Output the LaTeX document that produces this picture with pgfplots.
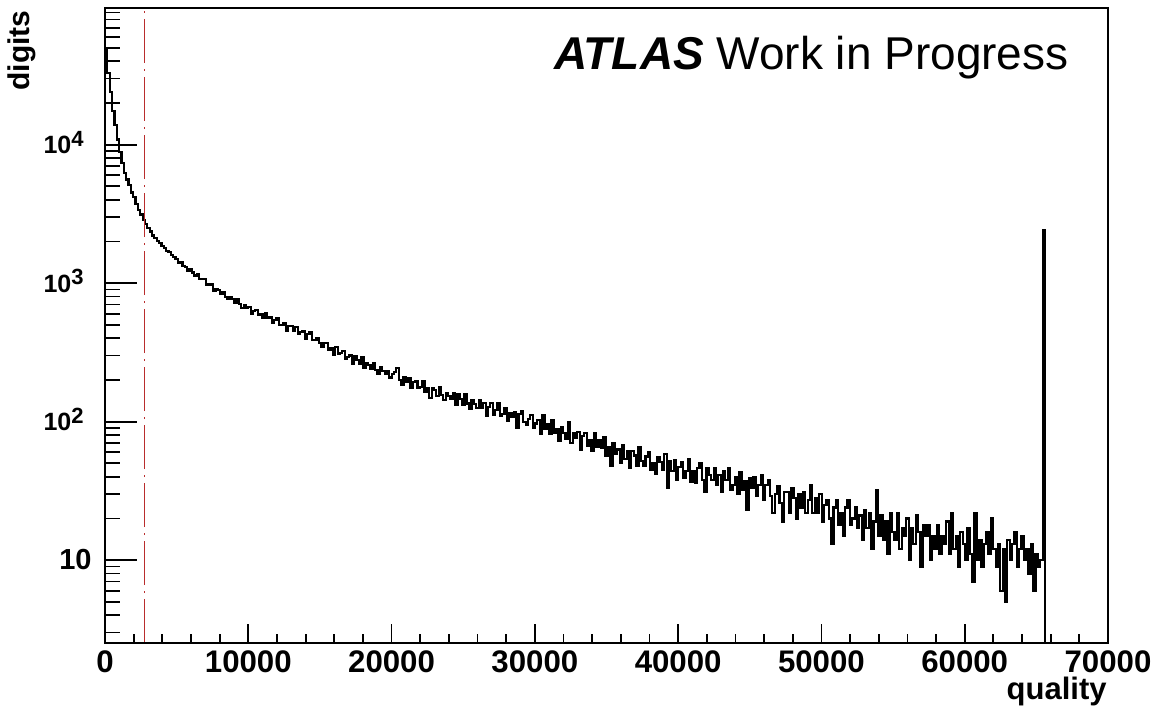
\documentclass[border=0pt]{standalone}
\usepackage{fontspec}
\setmainfont{Liberation Sans}
\usepackage{pgfplots}
\pgfplotsset{compat=1.18}
\usepackage{pgfplotstable}

\pgfplotstableread{
x y
0 0.01
0 50000
164 33000
328 24000
492 17500
656 13900
820 10900
984 8800
1148 7350
1312 6250
1476 5600
1640 5080
1804 4520
1968 4170
2132 3720
2296 3360
2460 3130
2624 2860
2788 2690
2952 2490
3116 2360
3280 2210
3444 2130
3608 2010
3772 1950
3936 1850
4100 1800
4264 1710
4428 1670
4592 1590
4756 1550
4920 1488
5084 1393
5248 1425
5412 1332
5576 1310
5740 1222
5904 1255
6068 1194
6232 1136
6396 1168
6560 1067
6724 1074
6888 1074
7052 973
7216 978
7380 980
7544 880
7708 910
7872 898
8036 842
8200 865
8364 798
8528 764
8692 795
8856 767
9020 722
9184 771
9348 708
9512 663
9676 695
9840 659
10004 676
10168 604
10332 630
10496 639
10660 586
10824 601
10988 558
11152 606
11316 558
11480 565
11644 518
11808 539
11972 555
12136 498
12300 501
12464 514
12628 453
12792 488
12956 493
13120 454
13284 481
13448 428
13612 441
13776 447
13940 397
14104 427
14268 445
14432 390
14596 389
14760 403
14924 371
15088 346
15252 370
15416 372
15580 332
15744 342
15908 304
16072 346
16236 309
16400 315
16564 324
16728 286
16892 292
17056 300
17220 261
17384 295
17548 277
17712 263
17876 294
18040 246
18204 264
18368 257
18532 241
18696 265
18860 237
19024 222
19188 246
19352 233
19516 220
19680 231
19844 208
20008 221
20172 229
20336 243
20500 201
20664 185
20828 210
20992 195
21156 206
21320 175
21484 193
21648 197
21812 176
21976 179
22140 196
22304 163
22468 174
22632 148
22796 175
22960 170
23124 154
23288 177
23452 156
23616 143
23780 162
23944 154
24108 145
24272 162
24436 131
24600 157
24764 146
24928 133
25092 159
25256 135
25420 123
25584 142
25748 134
25912 125
26076 144
26240 125
26404 136
26568 110
26732 128
26896 137
27060 112
27224 122
27388 136
27552 110
27716 114
27880 126
28044 102
28208 116
28372 108
28536 118
28700 90
28864 113
29028 119
29192 99
29356 94
29520 105
29684 112
29848 90
30012 97
30176 103
30340 81
30504 111
30668 89
30832 96
30996 81
31160 103
31324 83
31488 89
31652 73
31816 92
31980 83
32144 75
32308 99
32472 70
32636 83
32800 76
32964 84
33128 63
33292 79
33456 83
33620 67
33784 73
33948 61
34112 83
34276 66
34440 73
34604 65
34768 77
34932 57
35096 66
35260 48
35424 70
35588 58
35752 63
35916 50
36080 68
36244 54
36408 61
36572 46
36736 61
36900 57
37064 48
37228 65
37392 52
37556 48
37720 56
37884 60
38048 45
38212 50
38376 42
38540 55
38704 51
38868 45
39032 58
39196 33
39360 52
39524 44
39688 53
39852 38
40016 47
40180 51
40344 39
40508 44
40672 54
40836 37
41000 44
41164 36
41328 46
41492 50
41656 38
41820 31
41984 46
42148 41
42312 38
42476 46
42640 35
42804 41
42968 31
43132 44
43296 38
43460 46
43624 32
43788 35
43952 40
44116 30
44280 43
44444 32
44608 37
44772 23
44936 39
45100 33
45264 40
45428 29
45592 35
45756 41
45920 27
46084 35
46248 38
46412 29
46576 22
46740 30
46904 34
47068 26
47232 19
47396 31
47560 31
47724 22
47888 33
48052 28
48216 20
48380 30
48544 24
48708 31
48872 22
49036 27
49200 35
49364 22
49528 28
49692 22
49856 30
50020 19
50184 25
50348 27
50512 20
50676 13
50840 24
51004 27
51168 18
51332 22
51496 15
51660 24
51824 27
51988 18
52152 20
52316 24
52480 17
52644 21
52808 14
52972 23
53136 17
53300 22
53464 12
53628 19
53792 32
53956 15
54120 21
54284 14
54448 19
54612 11
54776 22
54940 16
55104 14
55268 22
55432 12
55596 17
55760 15
55924 20
56088 10
56252 17
56416 13
56580 21
56744 16
56908 9
57072 18
57236 15
57400 18
57564 10
57728 15
57892 12
58056 18
58220 11
58384 15
58548 13
58712 19
58876 11
59040 22
59204 12
59368 15
59532 9
59696 16
59860 13
60024 10
60188 17
60352 11
60516 7
60680 22
60844 10
61008 14
61172 9
61336 13
61500 16
61664 11
61828 20
61992 12
62156 9
62320 13
62484 6
62648 12
62812 5
62976 14
63140 10
63304 13
63468 16
63632 9
63796 12
63960 15
64124 10
64288 12
64452 8
64616 13
64780 6
64944 11
65108 9
65272 10
65436 2400
65600 0.01
}\histdata

\newcommand{\pw}[1]{{\fontsize{12.5}{15}\selectfont 10\raisebox{3.6pt}{\fontsize{11}{13}\selectfont #1}}\kern4pt}

\begin{document}
\begin{tikzpicture}[x=1pt,y=1pt]
\useasboundingbox (0,0) rectangle (577,354);
\begin{axis}[
  at={(52.5pt,32.5pt)}, anchor=south west,
  scale only axis, width=501.5pt, height=317.5pt,
  xmin=0, xmax=70000, ymode=log, ymin=2.52, ymax=97000,
  axis line style={line width=1pt},
  tick align=inside, tick pos=left,
  xtick={0,10000,20000,30000,40000,50000,60000,70000},
  xticklabels={0,10000,20000,30000,40000,50000,60000,70000},
  minor x tick num=4,
  ytick=\empty,
  major tick length=9.5pt, minor tick length=4.5pt,
  every tick/.style={line width=0.9pt, black},
  /pgf/number format/assume math mode=true,
  xticklabel style={font=\fontsize{15.6}{18}\selectfont\bfseries, inner sep=0pt, anchor=north, yshift=-3.5pt},
  scaled x ticks=false,
]
\addplot[const plot mark left, no marks, line width=1.1pt, black] table[x=x,y=y]{\histdata};
\addplot[no marks, color={rgb,255:red,185;green,45;blue,45}, line width=0.6pt, dash pattern=on 22pt off 3pt on 1pt off 3pt] coordinates {(2730,2.52) (2730,97000)};
\end{axis}
\begin{axis}[
  at={(52.5pt,32.5pt)}, anchor=south west,
  scale only axis, width=501.5pt, height=317.5pt,
  xmin=0, xmax=70000, ymode=log, ymin=2.52, ymax=97000,
  axis line style={line width=1pt},
  tick align=inside, tick pos=left,
  xtick=\empty,
  ytick={10,100,1000,10000},
  yticklabels={{\fontsize{14.5}{17}\selectfont 10},\pw{2},\pw{3},\pw{4}},
  minor ytick={3,4,5,6,7,8,9,20,30,40,50,60,70,80,90,200,300,400,500,600,700,800,900,2000,3000,4000,5000,6000,7000,8000,9000,20000,30000,40000,50000,60000,70000,80000,90000},
  major tick length=16pt, minor tick length=7.5pt,
  every tick/.style={line width=0.9pt, black},
  yticklabel style={font=\bfseries, inner sep=0pt, anchor=base east, xshift=-6.5pt, yshift=-4.5pt},
]
\end{axis}
\node[rotate=90, anchor=base east, inner sep=0pt, font=\fontsize{15}{18}\selectfont\bfseries] at (14.5,349) {digits};
\node[anchor=base east, inner sep=0pt, font=\fontsize{15.5}{18}\selectfont\bfseries] at (553.5,4.5) {quality};
\node[anchor=base east, inner sep=0pt, font=\fontsize{23}{27}\selectfont] at (534.5,319.35) {\textbf{\textit{ATLAS}} Work in Progress};
\end{tikzpicture}
\end{document}
